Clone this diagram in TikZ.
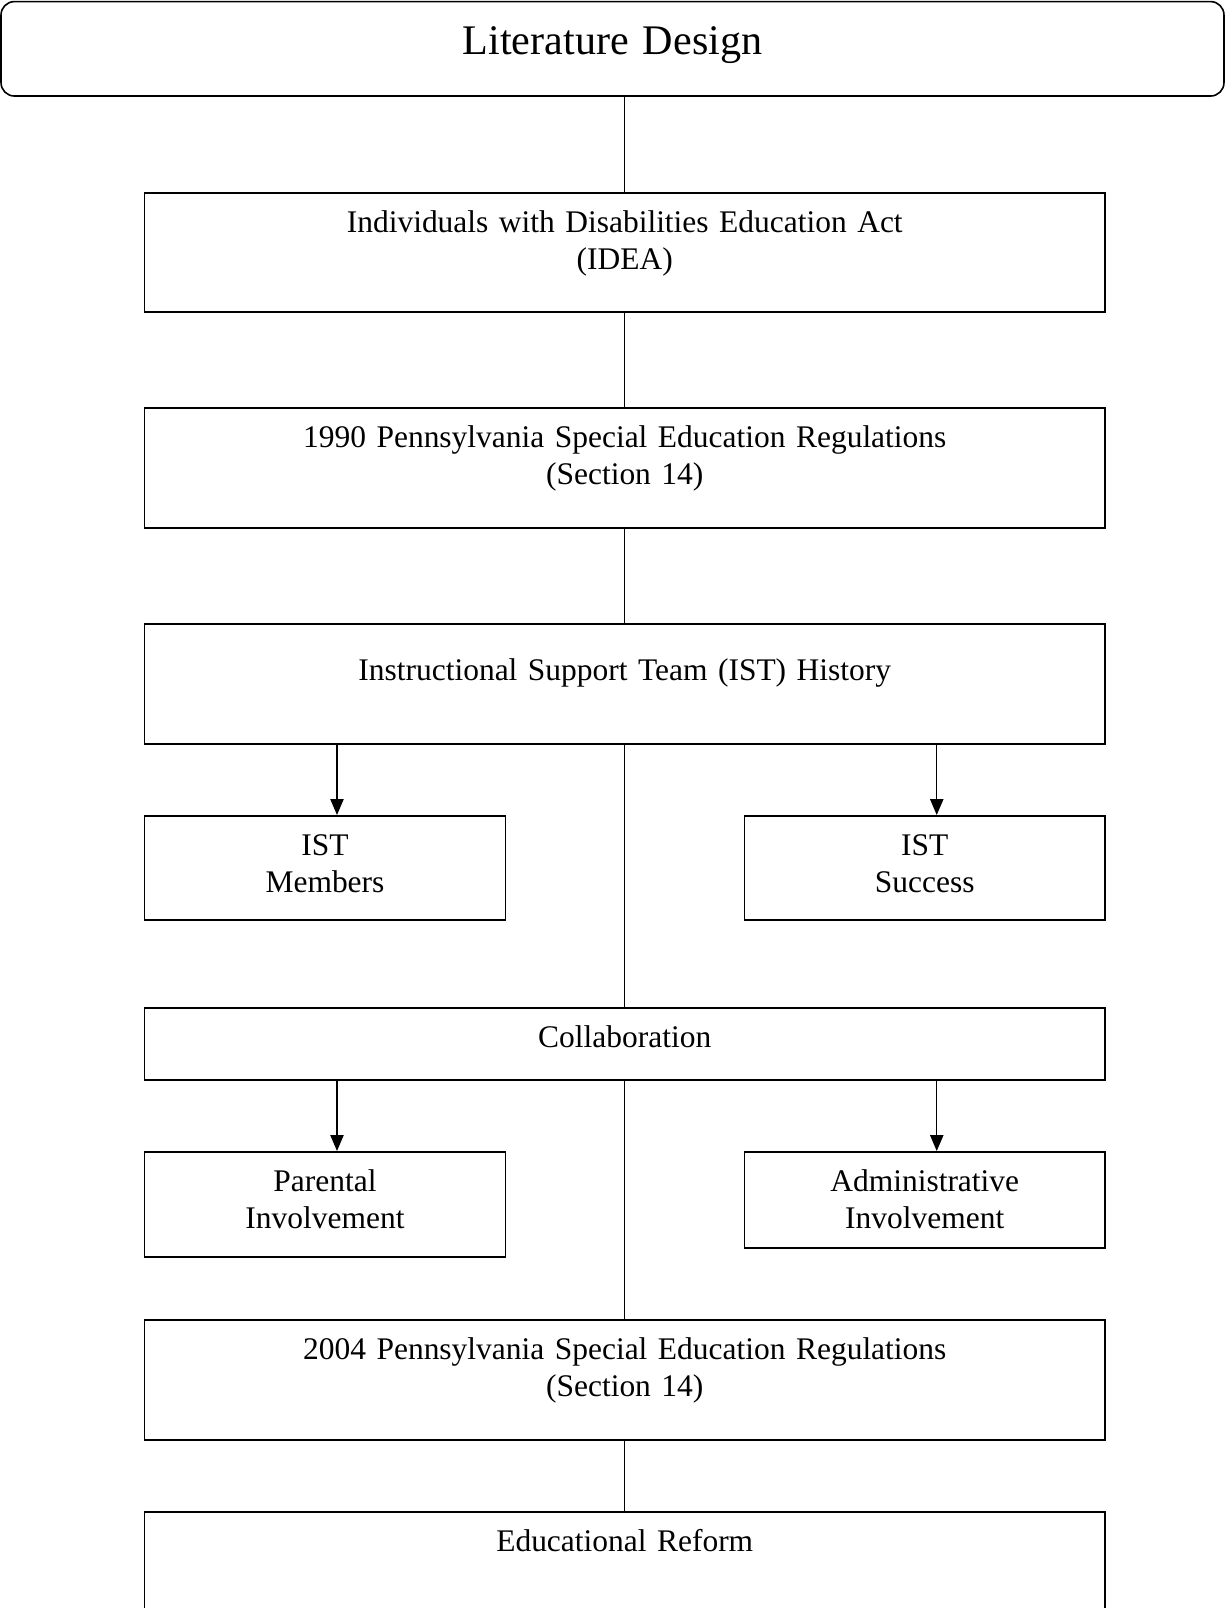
\documentclass[tikz,border=0pt]{standalone}
\usepackage{fontspec}
\setmainfont{Liberation Serif}
\usetikzlibrary{arrows.meta}
\tikzset{
	box/.style={draw,line width=0.6pt,inner sep=0pt,anchor=north,align=center,text width=360.2pt,text height=15pt,font=\fontsize{11.8}{13.8}\selectfont},
	smallbox/.style={box,text width=135.3pt},
	link/.style={line width=0.5pt},
	arr/.style={link,-{Triangle[length=6pt,width=5pt]}}
}
\begin{document}
\begin{tikzpicture}[x=0.375pt,y=-0.375pt]
				\useasboundingbox (0,0) rectangle (1225,1608);
				\node[box,rounded corners=5pt,text width=458.6pt,text height=19.9pt,text depth=15.5pt,font=\fontsize{15.8}{19}\selectfont] (lit) at (612.5,0.8) {Literature Design};
				\node[box,text depth=29.6pt] (idea) at (624.75,192) {Individuals with Disabilities Education Act\\(IDEA)};
				\node[box,text depth=30pt] (pa90) at (624.75,407) {1990 Pennsylvania Special Education Regulations\\(Section 14)};
				\node[box,text height=21.4pt,text depth=23.6pt] (ist) at (624.75,623) {Instructional Support Team (IST) History};
				\node[smallbox,text depth=24pt] (memb) at (325,815) {IST\\Members};
				\node[smallbox,text depth=24pt] (succ) at (924.75,815) {IST\\Success};
				\node[box,text depth=12pt] (collab) at (624.75,1007) {Collaboration};
				\node[smallbox,text depth=24.4pt] (parent) at (325,1151) {Parental\\Involvement};
				\node[smallbox,text depth=21pt] (admin) at (924.75,1151) {Administrative\\Involvement};
				\node[box,text depth=30pt] (pa04) at (624.75,1319) {2004 Pennsylvania Special Education Regulations\\(Section 14)};
				\node[box,text depth=22.5pt] (reform) at (624.75,1511) {Educational Reform};
				\draw[link] (lit.south -| idea.north) -- (idea.north);
				\draw[link] (idea.south) -- (pa90.north);
				\draw[link] (pa90.south) -- (ist.north);
				\draw[link] (ist.south) -- (collab.north);
				\draw[link] (collab.south) -- (pa04.north);
				\draw[link] (pa04.south) -- (reform.north);
				\draw[arr] ([xshift=4.5pt]ist.south -| memb.north) -- ([xshift=4.5pt]memb.north);
				\draw[arr] ([xshift=4.5pt]ist.south -| succ.north) -- ([xshift=4.5pt]succ.north);
				\draw[arr] ([xshift=4.5pt]collab.south -| parent.north) -- ([xshift=4.5pt]parent.north);
				\draw[arr] ([xshift=4.5pt]collab.south -| admin.north) -- ([xshift=4.5pt]admin.north);
\end{tikzpicture}
\end{document}
